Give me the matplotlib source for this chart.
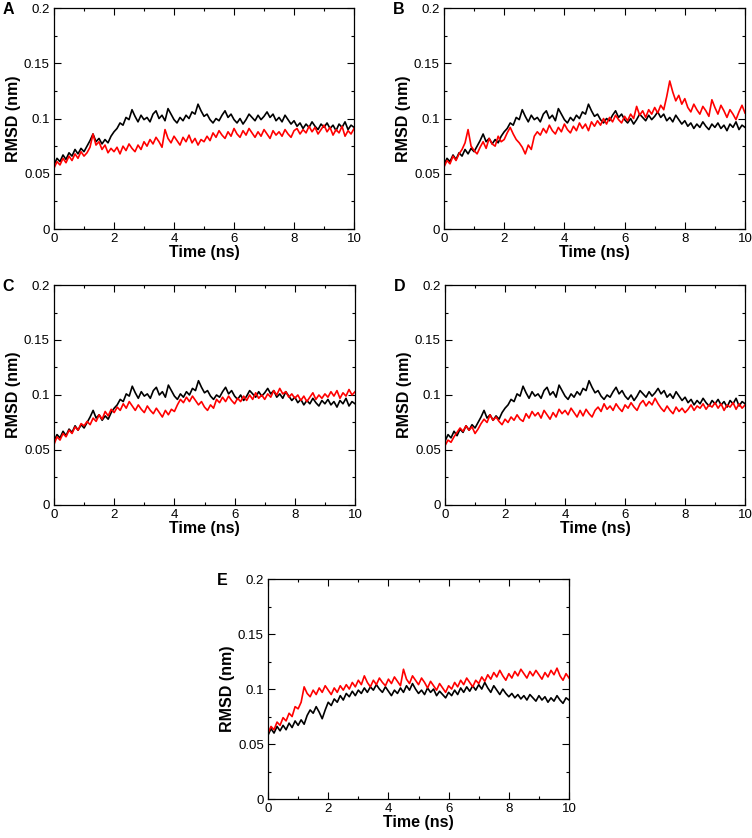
import numpy as np
import matplotlib
matplotlib.use("Agg")
import matplotlib.pyplot as plt
from matplotlib.ticker import MultipleLocator

plt.rcParams['font.family'] = ['Liberation Sans', 'DejaVu Sans']

# time axis, one reading every 0.1 ns
time_ns = np.arange(101) / 10.0

# RMSD readings in units of 0.001 nm
# black trace (same in panels A-D)
black_abcd = [58, 64, 61, 67, 63, 69, 66, 72, 68, 73, 70,
              75, 80, 86, 79, 82, 77, 81, 78, 84, 88,
              91, 96, 94, 101, 99, 108, 102, 97, 103, 99,
              101, 97, 104, 107, 100, 103, 98, 109, 104, 99,
              96, 101, 98, 103, 100, 106, 104, 113, 107, 102,
              104, 99, 96, 100, 98, 103, 107, 101, 104, 99,
              96, 100, 95, 99, 104, 101, 98, 103, 99, 102,
              106, 101, 104, 98, 101, 97, 103, 99, 95, 98,
              93, 96, 91, 95, 92, 97, 93, 90, 95, 92,
              96, 91, 94, 89, 95, 92, 97, 90, 94, 92]

red_a = [55, 61, 58, 64, 60, 66, 62, 68, 64, 70, 66,
         69, 74, 86, 76, 79, 72, 76, 69, 73, 70,
         74, 68, 75, 71, 77, 73, 70, 76, 72, 79,
         75, 81, 77, 83, 79, 74, 90, 82, 78, 84,
         80, 76, 83, 79, 85, 78, 82, 76, 81, 79,
         84, 80, 87, 83, 89, 85, 82, 88, 84, 91,
         86, 83, 89, 85, 91, 87, 83, 88, 84, 90,
         86, 82, 89, 85, 88, 84, 90, 86, 83, 89,
         91, 86, 90, 87, 93, 88, 92, 86, 90, 94,
         88, 92, 85, 90, 87, 93, 84, 89, 86, 91]

red_b = [56, 62, 59, 66, 62, 68, 72, 78, 90, 75, 71,
         68, 74, 79, 73, 82, 77, 75, 84, 79, 81,
         87, 92, 86, 81, 78, 74, 68, 76, 72, 84,
         88, 85, 91, 87, 94, 89, 86, 92, 88, 95,
         90, 87, 93, 89, 96, 91, 95, 89, 97, 93,
         98, 94, 100, 95, 101, 97, 103, 99, 96, 102,
         98, 104, 100, 111, 103, 107, 101, 108, 104, 110,
         105, 112, 108, 120, 134, 124, 116, 121, 113, 118,
         110, 106, 113, 108, 104, 111, 107, 102, 117, 110,
         104, 112, 107, 101, 108, 104, 99, 106, 112, 105]

red_c = [55, 62, 59, 65, 62, 68, 65, 71, 68, 74, 72,
         76, 73, 79, 76, 82, 78, 85, 81, 87, 84,
         89, 86, 92, 88, 94, 90, 86, 91, 87, 84,
         90, 86, 83, 88, 84, 80, 86, 82, 87, 85,
         91, 96, 93, 98, 94, 99, 95, 91, 94, 89,
         86, 91, 88, 96, 93, 98, 94, 99, 95, 92,
         97, 94, 99, 95, 100, 96, 102, 97, 100, 96,
         101, 98, 104, 100, 106, 101, 103, 98, 101, 97,
         100, 95, 99, 94, 98, 102, 96, 100, 97, 101,
         98, 103, 99, 104, 97, 102, 99, 105, 100, 103]

red_d = [54, 59, 57, 62, 66, 70, 67, 72, 68, 71, 65,
         69, 74, 78, 75, 82, 77, 80, 76, 73, 78,
         75, 80, 77, 82, 78, 76, 83, 79, 85, 81,
         84, 79, 86, 82, 78, 84, 80, 87, 83, 86,
         82, 88, 84, 80, 86, 81, 87, 83, 80, 86,
         89, 85, 92, 87, 90, 86, 92, 88, 85, 91,
         88, 93, 89, 86, 92, 95, 90, 94, 91, 97,
         92, 88, 85, 90, 86, 83, 89, 85, 88, 84,
         87, 91, 86, 90, 88, 92, 87, 91, 89, 93,
         88, 92, 86, 91, 89, 93, 87, 92, 88, 91]

black_e = [58, 64, 60, 66, 62, 67, 63, 69, 65, 71, 67,
           72, 68, 76, 81, 78, 84, 79, 73, 81, 88,
           85, 91, 88, 94, 90, 96, 93, 98, 94, 99,
           96, 101, 97, 102, 99, 104, 100, 97, 102, 98,
           94, 99, 96, 101, 97, 103, 99, 105, 100, 96,
           99, 95, 101, 97, 100, 94, 98, 95, 92, 97,
           94, 99, 95, 101, 97, 102, 98, 103, 99, 104,
           100, 106, 101, 97, 103, 99, 95, 100, 96, 93,
           96, 92, 95, 91, 94, 90, 95, 92, 89, 94,
           90, 93, 88, 92, 89, 94, 90, 87, 92, 90]

red_e = [60, 66, 63, 70, 67, 74, 71, 78, 75, 84, 82,
         88, 102, 96, 93, 99, 95, 101, 97, 103, 99,
         95, 101, 97, 103, 99, 104, 100, 106, 102, 108,
         104, 112, 106, 102, 108, 104, 110, 106, 103, 109,
         105, 111, 107, 103, 118, 109, 105, 112, 108, 104,
         110, 106, 101, 107, 103, 99, 105, 101, 97, 103,
         100, 106, 102, 108, 104, 110, 106, 102, 108, 105,
         111, 107, 113, 109, 115, 111, 117, 112, 108, 114,
         110, 116, 112, 118, 114, 110, 116, 112, 117, 113,
         109, 115, 111, 117, 113, 119, 112, 108, 114, 110]

panel_letters = ["A", "B", "C", "D", "E"]
black_series = [black_abcd, black_abcd, black_abcd, black_abcd, black_e]
red_series = [red_a, red_b, red_c, red_d, red_e]

# axes boxes in figure fractions [left, bottom, width, height]
boxes = [[0.0718, 0.7267, 0.3990, 0.2637],
         [0.5904, 0.7267, 0.4003, 0.2637],
         [0.0718, 0.3974, 0.4003, 0.2625],
         [0.5918, 0.3974, 0.3990, 0.2625],
         [0.3564, 0.0465, 0.4003, 0.2625]]

fig = plt.figure(figsize=(7.52, 8.38), dpi=100)

for letter, blk, red, box in zip(panel_letters, black_series, red_series, boxes):
    ax = fig.add_axes(box)
    ax.plot(time_ns, np.array(blk) / 1000.0, color='black', lw=1.2)
    ax.plot(time_ns, np.array(red) / 1000.0, color='#ff0000', lw=1.2)
    ax.set_xlim(0, 10)
    ax.set_ylim(0, 0.2)
    ax.xaxis.set_major_locator(MultipleLocator(2))
    ax.xaxis.set_minor_locator(MultipleLocator(1))
    ax.yaxis.set_minor_locator(MultipleLocator(0.025))
    ax.set_yticks([0, 0.05, 0.1, 0.15, 0.2])
    ax.set_yticklabels(["0", "0.05", "0.1", "0.15", "0.2"])
    ax.tick_params(which='both', direction='in', top=True, right=True,
                   labelsize=9.5, pad=3, width=0.8)
    ax.tick_params(which='major', length=5)
    ax.tick_params(which='minor', length=2.5)
    for sp in ax.spines.values():
        sp.set_linewidth(0.9)
    ax.set_xlabel("Time (ns)", fontsize=11.5, fontweight='bold', labelpad=0)
    ax.set_ylabel("RMSD (nm)", fontsize=11.5, fontweight='bold', labelpad=2)
    # panel letter sits left of the top y tick label
    fig.text(box[0] - 0.068, box[1] + box[3] - 0.002, letter,
             fontsize=11.5, fontweight='bold', ha='left', va='center')

fig.savefig("out.png", dpi=100)
